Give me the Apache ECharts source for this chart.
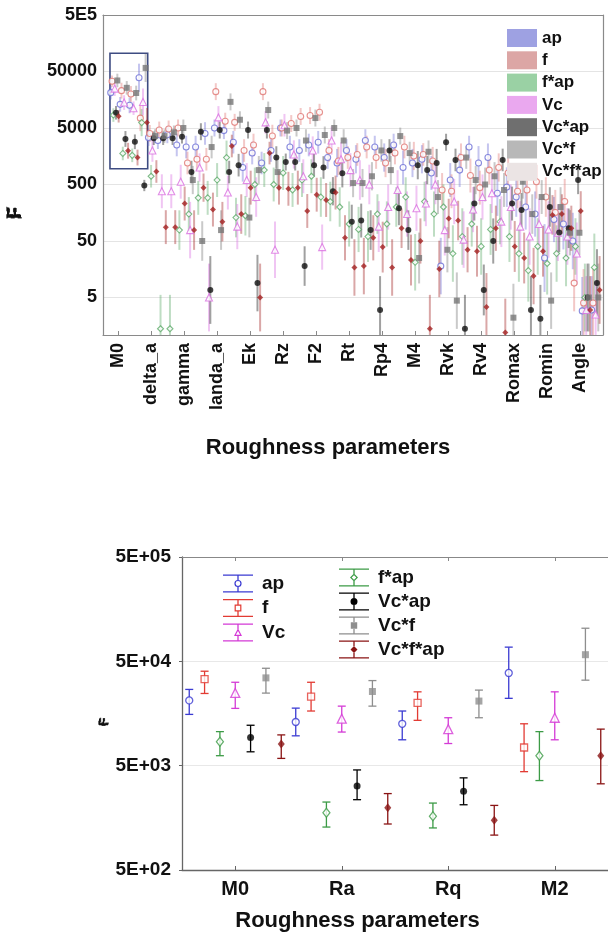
<!DOCTYPE html>
<html>
<head>
<meta charset="utf-8">
<script src="https://cdn.jsdelivr.net/npm/echarts@6/dist/echarts.min.js"></script>
<style>
html, body { margin: 0; padding: 0; background: #fff; }
#chart { width: 608px; height: 940px; }
</style>
</head>
<body>
<div id="chart"></div>
<script>
const seriesNames = ['ap', 'f', 'f*ap', 'Vc', 'Vc*ap', 'Vc*f', 'Vc*f*ap'];

// top chart: labelled ticks (position in parameter-index units)
const topTickLabels = ['M0', 'delta_a', 'gamma', 'landa_a', 'Ek', 'Rz', 'F2', 'Rt', 'Rp4', 'M4', 'Rvk', 'Rv4', 'Romax', 'Romin', 'Angle'];
const topTickPos = [0.35, 3.85, 7.35, 10.85, 14.35, 17.85, 21.35, 24.85, 28.35, 31.85, 35.35, 38.85, 42.35, 45.85, 49.35];
const topYTicks = [5, 50, 500, 5000, 50000, 500000];

// top chart F values, one per roughness parameter (52)
const topAp = [21100, 13100, 12600, 38700,
  3400, 3000, 3800, 2500, 2300, 2300, 4000, 5000, 4500,
  2800, 1000, 1800, 1200, 2000, 5000, 2300, 2000, 2500, 2800,
  1500, 1200, 2000, 1400, 3000, 2300, 1500, 2500, 1000, 1200,
  1400, 800, 18, 600, 900, 2300, 1200, 1500, 350, 450,
  300, 200, 150, 25, 120, 100, 50, 2.9, 3];
const topF = [33700, 22900, 20000, 7470,
  4000, 4600, 4800, 5000, 1200, 1400, 1400, 22000, 6600,
  6300, 2000, 2500, 22000, 3600, 5000, 6000, 8000, 8300, 9500,
  2000, 1300, 1500, 1700, 2300, 1500, 1200, 1800, 2300, 1600,
  1700, 1300, 400, 380, 1500, 720, 440, 900, 1000, 800,
  380, 400, 560, 300, 160, 250, 9, 4, 4];
const topFap = [8470, 1770, 1640, 6230,
  700, 1.4, 1.4, 78, 150, 290, 290, 600, 1500,
  130, 140, 500, 900, 500, 800, 400, 600, 700, 300,
  250, 200, 100, 80, 60, 150, 100, 200, 300, 21,
  250, 150, 200, 30, 60, 100, 40, 80, 110, 60,
  30, 15, 40, 20, 30, 25, 40, 5, 17];
const topVc = [24900, 14100, 11200, 14400,
  2000, 380, 380, 560, 78, 1000, 5, 7700, 360,
  90, 600, 300, 6300, 35, 5600, 1700, 700, 2000, 39,
  3000, 1400, 900, 600, 500, 90, 200, 400, 150, 190,
  230, 500, 78, 250, 53, 180, 300, 350, 110, 200,
  90, 60, 100, 80, 70, 60, 30, 3, 2.5];
const topVcap = [9300, 3200, 2850, 480,
  3300, 3300, 3300, 3500, 830, 4300, 6.8, 4600, 830,
  1100, 4600, 9, 4600, 1500, 1250, 1250, 18, 1100, 1000,
  380, 790, 110, 115, 78, 3, 2000, 190, 78, 1100,
  900, 1200, 2800, 1360, 1.4, 230, 6.8, 50, 1360, 230,
  177, 3, 2.1, 200, 71, 84, 600, 5, 9];
const topVcf = [34700, 25700, 20800, 57900,
  3600, 3600, 4200, 5000, 600, 50, 2300, 78, 14500,
  7000, 130, 900, 10400, 830, 4500, 5000, 3000, 7500, 3760,
  5000, 3000, 530, 530, 700, 2000, 900, 3600, 1800, 25,
  1900, 300, 35, 4.4, 1500, 600, 500, 700, 400, 2.2,
  560, 150, 300, 4.4, 200, 70, 70, 5, 5];
const topVcfap = [8050, 1980, 1500, 6230,
  850, 88, 88, 230, 78, 440, 180, 110, 2400,
  150, 440, 5, 1800, 440, 420, 440, 170, 330, 266,
  360, 57, 17, 18, 57, 39, 17, 84, 23, 50,
  1.4, 16, 125, 115, 35, 33, 3.4, 84, 1.2, 40,
  25, 12, 33, 145, 150, 84, 170, 3, 6.8];

// top chart error half-widths, in decades
const topApErr = [0.12, 0.13, 0.14, 0.25,
  0.15, 0.15, 0.15, 0.2, 0.2, 0.2, 0.2, 0.15, 0.15,
  0.2, 0.25, 0.2, 0.2, 0.2, 0.15, 0.2, 0.2, 0.2, 0.2,
  0.2, 0.25, 0.2, 0.25, 0.2, 0.2, 0.25, 0.2, 0.3, 0.25,
  0.25, 0.3, 0.5, 0.3, 0.3, 0.2, 0.3, 0.25, 0.4, 0.35,
  0.35, 0.4, 0.4, 0.6, 0.4, 0.45, 0.5, 0.6, 0.6];
const topFErr = [0.1, 0.14, 0.14, 0.23,
  0.15, 0.15, 0.15, 0.15, 0.2, 0.2, 0.2, 0.15, 0.15,
  0.15, 0.2, 0.2, 0.15, 0.2, 0.15, 0.15, 0.15, 0.15, 0.15,
  0.2, 0.25, 0.2, 0.2, 0.2, 0.2, 0.25, 0.2, 0.2, 0.25,
  0.2, 0.25, 0.3, 0.3, 0.25, 0.3, 0.3, 0.25, 0.25, 0.3,
  0.3, 0.35, 0.3, 0.35, 0.4, 0.4, 0.5, 0.6, 0.6];
const topFapErr = [0.12, 0.12, 0.12, 0.24,
  0.2, 0.6, 0.6, 0.35, 0.3, 0.3, 0.3, 0.3, 0.3,
  0.35, 0.35, 0.3, 0.3, 0.3, 0.3, 0.3, 0.3, 0.3, 0.35,
  0.35, 0.35, 0.4, 0.4, 0.45, 0.35, 0.4, 0.35, 0.35, 0.5,
  0.35, 0.4, 0.4, 0.5, 0.5, 0.4, 0.5, 0.45, 0.4, 0.45,
  0.5, 0.55, 0.5, 0.55, 0.5, 0.5, 0.5, 0.6, 0.6];
const topVcErr = [0.13, 0.13, 0.12, 0.24,
  0.2, 0.3, 0.3, 0.3, 0.5, 0.25, 0.6, 0.2, 0.3,
  0.4, 0.3, 0.35, 0.2, 0.5, 0.2, 0.25, 0.3, 0.25, 0.4,
  0.25, 0.3, 0.3, 0.35, 0.35, 0.45, 0.4, 0.35, 0.4, 0.4,
  0.4, 0.35, 0.45, 0.4, 0.5, 0.4, 0.4, 0.35, 0.45, 0.4,
  0.45, 0.5, 0.45, 0.5, 0.5, 0.5, 0.55, 0.6, 0.6];
const topVcapErr = [0.12, 0.14, 0.13, 0.1,
  0.12, 0.12, 0.12, 0.12, 0.2, 0.15, 0.6, 0.15, 0.2,
  0.2, 0.15, 0.5, 0.15, 0.2, 0.15, 0.15, 0.35, 0.2, 0.2,
  0.25, 0.25, 0.3, 0.3, 0.35, 0.6, 0.2, 0.3, 0.35, 0.25,
  0.25, 0.25, 0.15, 0.2, 0.6, 0.3, 0.45, 0.4, 0.2, 0.3,
  0.3, 0.6, 0.6, 0.35, 0.35, 0.35, 0.25, 0.6, 0.6];
const topVcfErr = [0.12, 0.12, 0.13, 0.25,
  0.12, 0.12, 0.12, 0.15, 0.25, 0.35, 0.2, 0.35, 0.15,
  0.15, 0.35, 0.25, 0.15, 0.25, 0.15, 0.15, 0.2, 0.15, 0.15,
  0.15, 0.2, 0.25, 0.25, 0.25, 0.2, 0.25, 0.15, 0.2, 0.45,
  0.2, 0.3, 0.4, 0.5, 0.2, 0.25, 0.3, 0.25, 0.3, 0.6,
  0.3, 0.35, 0.3, 0.5, 0.35, 0.4, 0.4, 0.6, 0.6];
const topVcfapErr = [0.11, 0.14, 0.14, 0.26,
  0.2, 0.3, 0.3, 0.3, 0.35, 0.25, 0.3, 0.35, 0.2,
  0.35, 0.3, 0.6, 0.2, 0.3, 0.3, 0.3, 0.3, 0.3, 0.3,
  0.3, 0.4, 0.5, 0.5, 0.4, 0.45, 0.5, 0.35, 0.45, 0.4,
  0.6, 0.5, 0.35, 0.35, 0.4, 0.45, 0.6, 0.4, 0.6, 0.45,
  0.45, 0.5, 0.45, 0.35, 0.35, 0.4, 0.35, 0.6, 0.6];

// zoomed chart (first four parameters)
const zoomCategories = ['M0', 'Ra', 'Rq', 'M2'];
const zoomYTicks = [500, 5000, 50000, 500000];
const zoomAp = [21100, 13100, 12600, 38700];
const zoomApLo = [15500, 9660, 8850, 22100];
const zoomApHi = [26900, 17800, 16700, 68400];
const zoomF = [33700, 22900, 20000, 7470];
const zoomFLo = [24600, 16700, 13600, 4380];
const zoomFHi = [40200, 31500, 25500, 12600];
const zoomFap = [8470, 1770, 1640, 6230];
const zoomFapLo = [6230, 1290, 1265, 3600];
const zoomFapHi = [10600, 2240, 2190, 10600];
const zoomVc = [24900, 14100, 11200, 14400];
const zoomVcLo = [17700, 10500, 8150, 8850];
const zoomVcHi = [31500, 18600, 14400, 25500];
const zoomVcap = [9300, 3200, 2850, null];
const zoomVcapLo = [6790, 2360, 2110, null];
const zoomVcapHi = [12200, 4550, 3820, null];
const zoomVcf = [34700, 25700, 20800, 57900];
const zoomVcfLo = [24800, 18600, 14400, 33000];
const zoomVcfHi = [42900, 32700, 26500, 103800];
const zoomVcfap = [8050, 1980, 1500, 6230];
const zoomVcfapLo = [5870, 1380, 1080, 3350];
const zoomVcfapHi = [9860, 2700, 2080, 11200];

const topVals = [topAp, topF, topFap, topVc, topVcap, topVcf, topVcfap];
const topErrs = [topApErr, topFErr, topFapErr, topVcErr, topVcapErr, topVcfErr, topVcfapErr];
const zoomVals = [zoomAp, zoomF, zoomFap, zoomVc, zoomVcap, zoomVcf, zoomVcfap];
const zoomLos = [zoomApLo, zoomFLo, zoomFapLo, zoomVcLo, zoomVcapLo, zoomVcfLo, zoomVcfapLo];
const zoomHis = [zoomApHi, zoomFHi, zoomFapHi, zoomVcHi, zoomVcapHi, zoomVcfHi, zoomVcfapHi];

const topColors = ['#6d6fd6', '#e07672', '#5daa69', '#d96fe0', '#111111', '#777777', '#a32222'];
const topLegendColors = ['#9ea1e2', '#dca6a5', '#9ad1a4', '#eaa8ef', '#6f6f6f', '#b8b8b8', '#ebe4e4'];
const zoomColors = ['#3b3bd2', '#e23b33', '#3c9b46', '#d43ad6', '#000000', '#8e8e8e', '#8a1414'];
const topShapes = ['circle', 'circle', 'diamond', 'triangle', 'circle', 'rect', 'diamond'];
const zoomShapes = ['circle', 'rect', 'diamond', 'triangle', 'circle', 'rect', 'diamond'];
const hollow = [true, true, true, true, false, false, false];

const FONT = 'Liberation Sans, Arial, sans-serif';

// legend icons for the zoomed chart: error bar + marker
const barPart = 'M0 0H30V1.3H0Z M0 16.7H30V18H0Z M14.35 1.3H15.65V5.5H14.35Z M14.35 12.5H15.65V16.7H14.35Z';
const markPart = [
  ' M18.6 9A3.6 3.6 0 1 0 11.4 9A3.6 3.6 0 1 0 18.6 9Z M17.4 9A2.4 2.4 0 1 1 12.6 9A2.4 2.4 0 1 1 17.4 9Z',
  ' M11.6 5.6H18.4V12.4H11.6Z M12.8 6.8V11.2H17.2V6.8Z',
  ' M15 5L19 9L15 13L11 9Z M15 6.7L12.7 9L15 11.3L17.3 9Z',
  ' M15 4.8L19 12.4H11Z M15 7.4L12.9 11.2H17.1Z',
  ' M18.5 9A3.5 3.5 0 1 0 11.5 9A3.5 3.5 0 1 0 18.5 9Z',
  ' M11.8 5.8H18.2V12.2H11.8Z',
  ' M15 5.5L18.5 9L15 12.5L11.5 9Z'
];

function topBar(params, api) {
  const x = api.value(0);
  const p1 = api.coord([x, api.value(1)]);
  const p2 = api.coord([x, api.value(2)]);
  return {
    type: 'line',
    shape: { x1: p1[0], y1: p1[1], x2: p2[0], y2: p2[1] },
    style: { stroke: api.visual('color'), lineWidth: 2, opacity: 0.4 }
  };
}

function zoomBar(params, api) {
  const x = api.value(0);
  const lo = api.coord([x, api.value(1)]);
  const hi = api.coord([x, api.value(2)]);
  const c = api.visual('color');
  const w = 4;
  const st = { stroke: c, lineWidth: 1.3 };
  return {
    type: 'group',
    children: [
      { type: 'line', shape: { x1: lo[0], y1: lo[1], x2: hi[0], y2: hi[1] }, style: st },
      { type: 'line', shape: { x1: lo[0] - w, y1: lo[1], x2: lo[0] + w, y2: lo[1] }, style: st },
      { type: 'line', shape: { x1: hi[0] - w, y1: hi[1], x2: hi[0] + w, y2: hi[1] }, style: st }
    ]
  };
}

const series = [];
seriesNames.forEach((name, k) => {
  const dx = (k - 3) * 0.14;
  series.push({
    name: name, type: 'custom', xAxisIndex: 0, yAxisIndex: 0, clip: true, z: 2,
    itemStyle: { color: topColors[k] },
    renderItem: topBar,
    data: topVals[k].map((v, i) => [i + dx, v / Math.pow(10, topErrs[k][i]), v * Math.pow(10, topErrs[k][i])])
  });
});
seriesNames.forEach((name, k) => {
  const dx = (k - 3) * 0.14;
  const s = {
    name: name, type: 'scatter', xAxisIndex: 0, yAxisIndex: 0, clip: true, z: 3,
    symbol: topShapes[k], symbolSize: k === 3 ? 7 : 6,
    itemStyle: hollow[k]
      ? { color: '#fff', borderColor: topColors[k], borderWidth: 1.1 }
      : { color: topColors[k] },
    data: topVals[k].map((v, i) => [i + dx, v])
  };
  if (k === 0) {
    s.markArea = {
      silent: true,
      itemStyle: { color: 'rgba(0,0,0,0)', borderColor: '#3e4c82', borderWidth: 1.6 },
      data: [[{ coord: [-0.5, 105000] }, { coord: [3.5, 950] }]]
    };
  }
  series.push(s);
});
const zoomStart = series.length;
seriesNames.forEach((name, k) => {
  const dx = (k - 3) * 0.144;
  const rows = [];
  zoomVals[k].forEach((v, i) => {
    if (v != null) rows.push([i + 1 + dx, zoomLos[k][i], zoomHis[k][i]]);
  });
  series.push({
    name: name, type: 'custom', xAxisIndex: 2, yAxisIndex: 2, clip: true, z: 2,
    itemStyle: { color: zoomColors[k] },
    renderItem: zoomBar,
    data: rows
  });
});
seriesNames.forEach((name, k) => {
  const dx = (k - 3) * 0.144;
  const rows = [];
  zoomVals[k].forEach((v, i) => {
    if (v != null) rows.push([i + 1 + dx, v]);
  });
  series.push({
    name: name, type: 'scatter', xAxisIndex: 2, yAxisIndex: 2, clip: true, z: 3,
    symbol: zoomShapes[k],
    symbolSize: zoomShapes[k] === 'triangle' ? 9 : (zoomShapes[k] === 'diamond' ? [7, 9] : 7),
    itemStyle: hollow[k]
      ? { color: '#fff', borderColor: zoomColors[k], borderWidth: 1.3 }
      : { color: zoomColors[k] },
    data: rows
  });
});

const boldText = { fontFamily: FONT, fontWeight: 'bold', color: '#111' };

const option = {
  animation: false,
  backgroundColor: '#fff',
  grid: [
    { left: 103, top: 15, width: 500, height: 320 },
    { left: 182, top: 557, width: 431, height: 313 }
  ],
  legend: [
    {
      orient: 'vertical', left: 502, top: 24, itemWidth: 30, itemHeight: 18, itemGap: 4.3,
      icon: 'rect', selectedMode: false,
      itemStyle: { borderWidth: 0 },
      textStyle: Object.assign({ fontSize: 17 }, boldText),
      data: seriesNames.map((n, k) => ({ name: n, itemStyle: { color: topLegendColors[k], borderWidth: 0, opacity: 1 } }))
    },
    {
      orient: 'vertical', left: 218, top: 569, itemWidth: 30, itemHeight: 18, itemGap: 5.5,
      selectedMode: false,
      itemStyle: { borderWidth: 0 },
      textStyle: Object.assign({ fontSize: 19, padding: [0, 0, 0, 4] }, boldText),
      data: [0, 1, 3].map(k => ({ name: seriesNames[k], icon: 'path://' + barPart + markPart[k], itemStyle: { color: zoomColors[k], borderWidth: 0 } }))
    },
    {
      orient: 'vertical', left: 334, top: 563, itemWidth: 30, itemHeight: 18, itemGap: 5,
      selectedMode: false,
      itemStyle: { borderWidth: 0 },
      textStyle: Object.assign({ fontSize: 19, padding: [0, 0, 0, 4] }, boldText),
      data: [2, 4, 5, 6].map(k => ({ name: seriesNames[k], icon: 'path://' + barPart + markPart[k], itemStyle: { color: zoomColors[k], borderWidth: 0 } }))
    }
  ],
  xAxis: [
    {
      gridIndex: 0, type: 'value', min: -1.24, max: 51.78, position: 'bottom',
      axisLine: { show: true, onZero: false, lineStyle: { color: '#8a8a8a', width: 1.2 } },
      axisTick: { show: true, inside: true, length: 4, customValues: topTickPos, lineStyle: { color: '#8a8a8a' } },
      axisLabel: {
        customValues: topTickPos, rotate: 90, margin: 8, fontSize: 18, fontWeight: 'bold', fontFamily: FONT, color: '#111',
        formatter: v => {
          const i = topTickPos.findIndex(p => Math.abs(p - v) < 1e-6);
          return i >= 0 ? topTickLabels[i] : '';
        }
      },
      splitLine: { show: false },
      name: 'Roughness parameters', nameLocation: 'middle', nameGap: 102,
      nameTextStyle: { fontSize: 22, fontWeight: 'bold', fontFamily: FONT, color: '#111', padding: [0, 50, 0, 0] }
    },
    {
      gridIndex: 0, type: 'value', min: -1.24, max: 51.78, position: 'top',
      axisLine: { show: true, onZero: false, lineStyle: { color: '#8a8a8a', width: 1.2 } },
      axisTick: { show: false }, axisLabel: { show: false }, splitLine: { show: false }
    },
    {
      gridIndex: 1, type: 'value', min: 0.5, max: 4.5, position: 'bottom',
      axisLine: { show: true, onZero: false, lineStyle: { color: '#666', width: 1.3 } },
      axisTick: { show: true, inside: true, length: 4, customValues: [1, 2, 3, 4], lineStyle: { color: '#666' } },
      axisLabel: {
        customValues: [1, 2, 3, 4], margin: 9, fontSize: 20, fontWeight: 'bold', fontFamily: FONT, color: '#111',
        formatter: v => zoomCategories[Math.round(v) - 1] || ''
      },
      splitLine: { show: false },
      name: 'Roughness parameters', nameLocation: 'middle', nameGap: 40,
      nameTextStyle: { fontSize: 22, fontWeight: 'bold', fontFamily: FONT, color: '#111', padding: [0, 75, 0, 0] }
    },
    {
      gridIndex: 1, type: 'value', min: 0.5, max: 4.5, position: 'top',
      axisLine: { show: true, onZero: false, lineStyle: { color: '#888', width: 1.2 } },
      axisTick: { show: true, inside: true, length: 4, customValues: [1, 2, 3, 4], lineStyle: { color: '#888' } },
      axisLabel: { show: false }, splitLine: { show: false }
    }
  ],
  yAxis: [
    {
      gridIndex: 0, type: 'log', min: 1.085, max: 500000,
      axisLine: { show: true, onZero: false, lineStyle: { color: '#8a8a8a', width: 1.2 } },
      axisTick: { show: false, customValues: topYTicks },
      axisLabel: {
        customValues: topYTicks, margin: 6, fontSize: 18, fontWeight: 'bold', fontFamily: FONT, color: '#111',
        formatter: v => (v > 400000 ? '5E5' : String(Math.round(v)))
      },
      splitLine: { show: true, lineStyle: { color: '#e4e4e4', width: 1 } }
    },
    {
      gridIndex: 0, type: 'log', min: 1.085, max: 500000, position: 'right',
      axisLine: { show: true, onZero: false, lineStyle: { color: '#8a8a8a', width: 1.2 } },
      axisTick: { show: false }, axisLabel: { show: false }, splitLine: { show: false }
    },
    {
      gridIndex: 1, type: 'log', min: 500, max: 500000,
      axisLine: { show: true, onZero: false, lineStyle: { color: '#666', width: 1.3 } },
      axisTick: { show: true, length: 3, customValues: zoomYTicks, lineStyle: { color: '#666' } },
      axisLabel: {
        customValues: zoomYTicks, margin: 11, fontSize: 19, fontWeight: 'bold', fontFamily: FONT, color: '#111',
        formatter: v => '5E+0' + Math.round(Math.log10(v / 5))
      },
      splitLine: { show: true, lineStyle: { color: '#e8e8e8', width: 1 } }
    }
  ],
  graphic: [
    { type: 'text', x: 15, y: 213, rotation: Math.PI / 2,
      style: { text: 'F', fontSize: 20, fontWeight: 'bold', fontFamily: FONT, fill: '#111', align: 'center', verticalAlign: 'middle' } },
    { type: 'text', x: 104, y: 722, rotation: Math.PI / 2,
      style: { text: 'F', fontSize: 13, fontWeight: 'bold', fontFamily: FONT, fill: '#111', align: 'center', verticalAlign: 'middle' } }
  ],
  series: series
};

const chart = echarts.init(document.getElementById('chart'), null, { renderer: 'canvas' });
chart.setOption(option);

// dashed connectors from the zoom box to the zoomed chart
const topIdx = seriesNames.length; // first top scatter series
const boxBL = chart.convertToPixel({ seriesIndex: topIdx }, [-0.5, 950]);
const boxTR = chart.convertToPixel({ seriesIndex: topIdx }, [3.5, 105000]);
const zoomTL = chart.convertToPixel({ seriesIndex: zoomStart }, [0.5, 500000]);
const zoomTR = chart.convertToPixel({ seriesIndex: zoomStart }, [4.5, 500000]);
const dash = { stroke: '#3a3a3a', lineWidth: 1.5, lineDash: [4, 3] };
chart.setOption({
  graphic: [
    { type: 'line', z: 10, shape: { x1: boxBL[0], y1: boxBL[1], x2: zoomTL[0], y2: zoomTL[1] }, style: dash },
    { type: 'line', z: 10, shape: { x1: boxTR[0], y1: boxTR[1], x2: zoomTR[0], y2: zoomTR[1] }, style: dash }
  ]
});
</script>
</body>
</html>
